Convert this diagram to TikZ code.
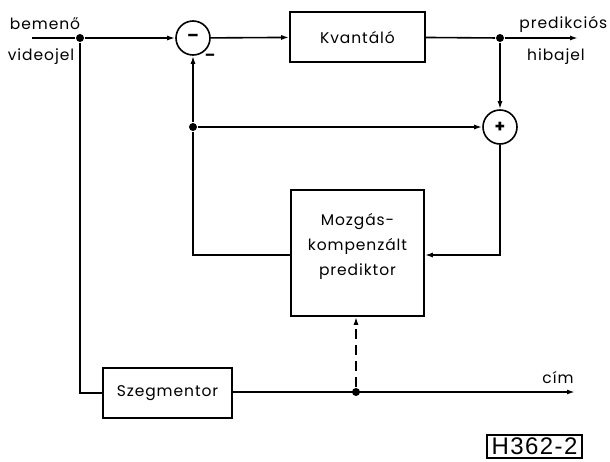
\documentclass[tikz,border=0pt]{standalone}
\usepackage{fontspec}
\setmainfont{Poppins}[LetterSpace=6]
\newfontfamily\hfont{Liberation Sans}[LetterSpace=6]
\usetikzlibrary{arrows.meta}
\begin{document}
\begin{tikzpicture}[x=1pt,y=-1pt,line width=1.6pt,
  >={Latex[length=8pt,width=5pt]},
  every node/.style={font=\fontsize{15.5}{18}\selectfont},
  blk/.style={draw,rectangle,inner sep=0pt},
  sumc/.style={draw,circle,minimum size=34pt,inner sep=0pt,font=\fontsize{17}{17}\selectfont\bfseries},
  dot/.style={circle,fill,inner sep=0pt,minimum size=8pt},
  lbl/.style={inner sep=0pt}]
\useasboundingbox (0,0) rectangle (610,461);

% blocks
\node[blk,minimum width=135pt,minimum height=50pt] (kv) at (357.5,37) {Kvantáló};
\node[blk,minimum width=133pt,minimum height=126pt,align=center,
      font=\fontsize{15.5}{25}\selectfont,text depth=18pt] (pred) at (357.5,253)
      {Mozgás-\\kompenzált\\prediktor};
\node[blk,minimum width=129pt,minimum height=50pt] (seg) at (167.5,393) {Szegmentor};
\node[sumc] (minus) at (193,38) {–};
\node[sumc] (plus) at (500,127) {+};

% junctions
\coordinate (in) at (32,38);
\node[dot] (j1) at (80,38) {};
\node[dot] (j2) at (500,38) {};
\node[dot] (j3) at (193,127) {};
\node[dot] (j4) at (356,392) {};
\coordinate (out) at (578,38);
\coordinate (cim) at (575,392);
\coordinate (cl) at (193,255);
\coordinate (cr) at (500,255);
\coordinate (cs) at (80,393);

% connectors
\draw (in) -- (j1);
\draw[->] (j1) -- (minus);
\draw[->] (minus) -- (kv);
\draw (kv) -- (j2);
\draw[->] (j2) -- (out);
\draw[->] (j2) -- (plus);
\draw[->] (j3) -- (plus);
\draw[->] (j3) -- (minus);
\draw (j3) -- (cl) -- (pred.west |- cl);
\draw[->] (plus) -- (cr) -- (pred.east |- cr);
\draw (j1) -- (cs) -- (seg.west |- cs);
\draw[->] (seg.east |- j4) -- (cim);
\draw[->,dash pattern=on 10pt off 6pt] (j4) -- (pred.south -| j4);

% labels
\node[lbl] (lbem) at (45,24) {bemenő};
\node[lbl] (lvid) at (41,57) {videojel};
\node[lbl,anchor=east] (lpred) at (608,24) {predikciós};
\node[lbl] (lhib) at (556,57) {hibajel};
\node[lbl] (lcim) at (558,378) {cím};
\node[lbl,font=\fontsize{15}{15}\selectfont\bfseries] (lmin) at (210,57) {–};
\node[draw,line width=1.6pt,minimum width=95pt,minimum height=23pt,inner sep=0pt,
      font=\hfont\fontsize{24}{24}\selectfont] (tag) at (534.5,446.5) {H362-2};
\end{tikzpicture}
\end{document}
